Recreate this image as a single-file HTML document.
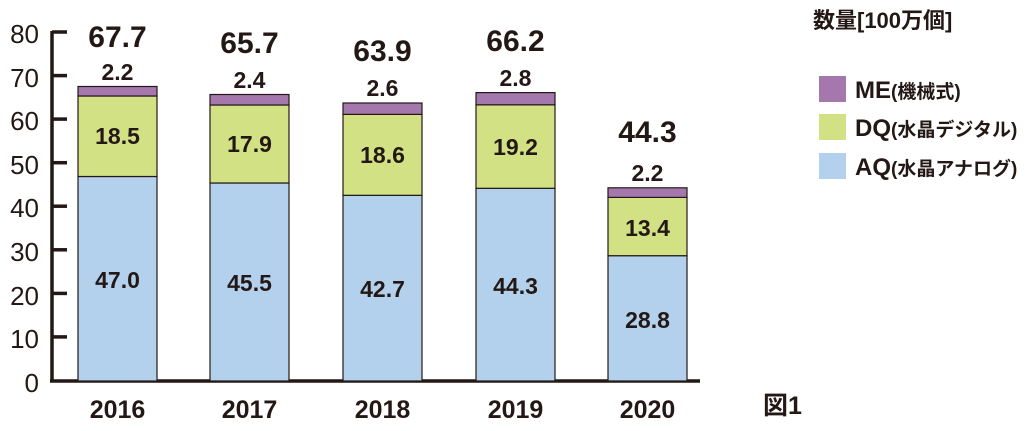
<!DOCTYPE html>
<html><head><meta charset="utf-8"><style>
body{margin:0;background:#fff;width:1036px;height:426px;overflow:hidden}
text{font-family:"Liberation Sans","Noto Sans CJK JP",sans-serif;font-weight:bold;fill:#231815}
</style></head><body>
<svg width="1036" height="426" viewBox="0 0 1036 426">
<g stroke="#231815" stroke-width="3.5">
<line x1="52" y1="31" x2="52" y2="382"/>
<line x1="50" y1="381" x2="700" y2="381"/>
<line x1="52" y1="32" x2="67" y2="32"/><line x1="52" y1="75.6" x2="67" y2="75.6"/>
<line x1="52" y1="119.1" x2="67" y2="119.1"/><line x1="52" y1="162.7" x2="67" y2="162.7"/>
<line x1="52" y1="206.2" x2="67" y2="206.2"/><line x1="52" y1="249.8" x2="67" y2="249.8"/>
<line x1="52" y1="293.4" x2="67" y2="293.4"/><line x1="52" y1="336.9" x2="67" y2="336.9"/>
</g>
<g font-size="26" font-weight="normal" text-anchor="end">
<text x="39" y="43" style="font-weight:normal">80</text><text x="39" y="87" style="font-weight:normal">70</text><text x="39" y="130" style="font-weight:normal">60</text>
<text x="39" y="174" style="font-weight:normal">50</text><text x="39" y="217" style="font-weight:normal">40</text><text x="39" y="261" style="font-weight:normal">30</text>
<text x="39" y="305" style="font-weight:normal">20</text><text x="39" y="348" style="font-weight:normal">10</text><text x="39" y="392" style="font-weight:normal">0</text>
</g>
<g stroke="#231815" stroke-width="1.2">
<rect x="78" y="176.5" width="79" height="204.5" fill="#b3d1ec"/>
<rect x="78" y="96" width="79" height="80.5" fill="#d2e183"/>
<rect x="78" y="86.5" width="79" height="9.5" fill="#a578ad"/>
<rect x="210" y="183" width="79" height="198" fill="#b3d1ec"/>
<rect x="210" y="105" width="79" height="78" fill="#d2e183"/>
<rect x="210" y="94.5" width="79" height="10.5" fill="#a578ad"/>
<rect x="343" y="195.3" width="79" height="185.7" fill="#b3d1ec"/>
<rect x="343" y="114.4" width="79" height="80.9" fill="#d2e183"/>
<rect x="343" y="103" width="79" height="11.4" fill="#a578ad"/>
<rect x="476" y="188.3" width="79" height="192.7" fill="#b3d1ec"/>
<rect x="476" y="104.8" width="79" height="83.5" fill="#d2e183"/>
<rect x="476" y="92.6" width="79" height="12.2" fill="#a578ad"/>
<rect x="608" y="255.7" width="79" height="125.3" fill="#b3d1ec"/>
<rect x="608" y="197.4" width="79" height="58.3" fill="#d2e183"/>
<rect x="608" y="187.8" width="79" height="9.6" fill="#a578ad"/>
</g>
<g font-size="23" text-anchor="middle">
<text x="117.5" y="288">47.0</text><text x="117.5" y="144">18.5</text><text x="117.5" y="80">2.2</text>
<text x="249.5" y="291">45.5</text><text x="249.5" y="152">17.9</text><text x="249.5" y="88">2.4</text>
<text x="382.5" y="297">42.7</text><text x="382.5" y="163">18.6</text><text x="382.5" y="96">2.6</text>
<text x="515.5" y="294">44.3</text><text x="515.5" y="155">19.2</text><text x="515.5" y="86">2.8</text>
<text x="647.5" y="328">28.8</text><text x="647.5" y="236">13.4</text><text x="647.5" y="181">2.2</text>
</g>
<g font-size="30" text-anchor="middle">
<text x="117.5" y="47">67.7</text><text x="249.5" y="53">65.7</text><text x="382.5" y="61">63.9</text>
<text x="515.5" y="51">66.2</text><text x="647.5" y="142">44.3</text>
</g>
<g font-size="25" text-anchor="middle">
<text x="117.5" y="418">2016</text><text x="249.5" y="418">2017</text><text x="382.5" y="418">2018</text>
<text x="515.5" y="418">2019</text><text x="647.5" y="418">2020</text>
</g>
<text x="763" y="414" font-size="25">図1</text>
<text x="813" y="28" font-size="22">数量[100万個]</text>
<rect x="819" y="76" width="27" height="26" fill="#a578ad"/>
<rect x="819" y="114" width="27" height="26" fill="#d2e183"/>
<rect x="819" y="153" width="27" height="26" fill="#b3d1ec"/>
<text x="855" y="98" font-size="24">ME<tspan font-size="19">(機械式)</tspan></text>
<text x="855" y="136" font-size="24">DQ<tspan font-size="19">(水晶デジタル)</tspan></text>
<text x="855" y="175" font-size="24">AQ<tspan font-size="19">(水晶アナログ)</tspan></text>
</svg>
</body></html>
